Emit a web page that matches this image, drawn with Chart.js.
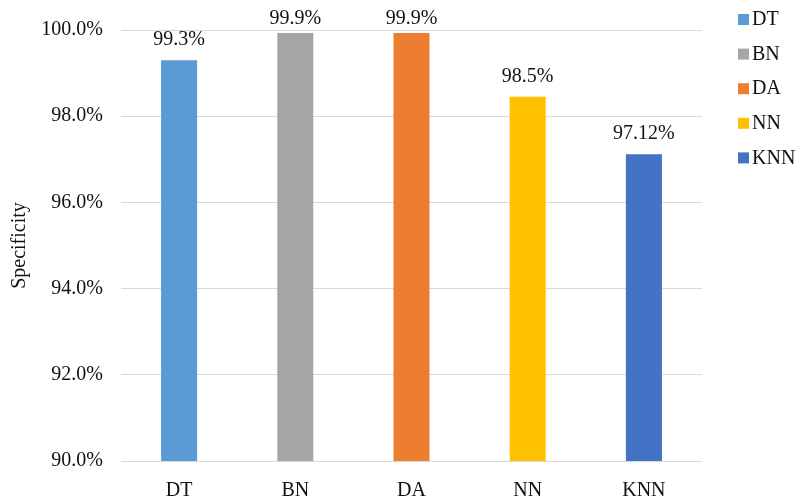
<!DOCTYPE html>
<html>
<head>
<meta charset="utf-8">
<script src="https://cdn.jsdelivr.net/npm/chart.js@4"></script>
<style>
  body { margin: 0; background: #fff; }
</style>
</head>
<body>
<canvas id="specChart" width="798" height="502"></canvas>
<script>
// 데이터
var categories = ['DT', 'BN', 'DA', 'NN', 'KNN'];
var specificity = [99.3, 99.93, 99.93, 98.45, 97.12];
var valueLabels = ['99.3%', '99.9%', '99.9%', '98.5%', '97.12%'];
var yTicks = [90, 92, 94, 96, 98, 100];
var barColors = ['#5B9BD5', '#A5A5A5', '#ED7D31', '#FFC000', '#4472C4'];

var serif = '"Liberation Serif", "Times New Roman", serif';
var textColor = '#111';

// 막대 위 값 표시
var valueLabelPlugin = {
	id: 'valueLabels',
	afterDatasetsDraw: function(chart) {
		var ctx = chart.ctx;
		var meta = chart.getDatasetMeta(0);
		ctx.save();
		ctx.font = '20px ' + serif;
		ctx.fillStyle = textColor;
		ctx.textAlign = 'center';
		ctx.textBaseline = 'middle';
		meta.data.forEach(function(bar, i) {
			var y = Math.max(bar.y - 20, 19);
			ctx.fillText(valueLabels[i], bar.x, y);
		});
		ctx.restore();
	}
};

// 오른쪽 범례
var sideLegendPlugin = {
	id: 'sideLegend',
	afterDraw: function(chart) {
		var ctx = chart.ctx;
		ctx.save();
		ctx.font = '20px ' + serif;
		ctx.textBaseline = 'middle';
		ctx.textAlign = 'left';
		categories.forEach(function(name, i) {
			var cy = 20 + i * 34.6;
			ctx.fillStyle = barColors[i];
			ctx.fillRect(738, cy - 6, 11, 11);
			ctx.fillStyle = textColor;
			ctx.fillText(name, 752, cy);
		});
		ctx.restore();
	}
};

var chartArea = document.getElementById('specChart').getContext('2d');
var myChart = new Chart(chartArea, {
	type: 'bar',
	data: {
		labels: categories,
		datasets: [{
			label: 'Specificity',
			data: specificity,
			backgroundColor: barColors,
			borderWidth: 0,
			barPercentage: 0.31,
			categoryPercentage: 1
		}]
	},
	options: {
		responsive: false,
		animation: false,
		layout: {
			padding: { top: 27, right: 96, bottom: 0, left: 0 }
		},
		plugins: {
			legend: { display: false },
			tooltip: { enabled: false }
		},
		scales: {
			x: {
				grid: { display: false },
				border: { display: false },
				ticks: {
					color: textColor,
					font: { family: serif, size: 20 },
					padding: 10
				},
				afterFit: function(scale) { scale.height = 41; }
			},
			y: {
				min: 90,
				max: 100,
				afterBuildTicks: function(scale) {
					scale.ticks = yTicks.map(function(v) { return { value: v }; });
				},
				grid: { color: '#d9d9d9', lineWidth: 1, drawTicks: false },
				border: { display: false },
				ticks: {
					color: textColor,
					font: { family: serif, size: 20 },
					padding: 18,
					callback: function(v) { return v.toFixed(1) + '%'; }
				},
				title: {
					display: true,
					text: 'Specificity',
					color: textColor,
					font: { family: serif, size: 20 },
					padding: { top: 8, bottom: 0 }
				},
				afterFit: function(scale) { scale.width = 121; }
			}
		}
	},
	plugins: [valueLabelPlugin, sideLegendPlugin]
});
</script>
</body>
</html>
